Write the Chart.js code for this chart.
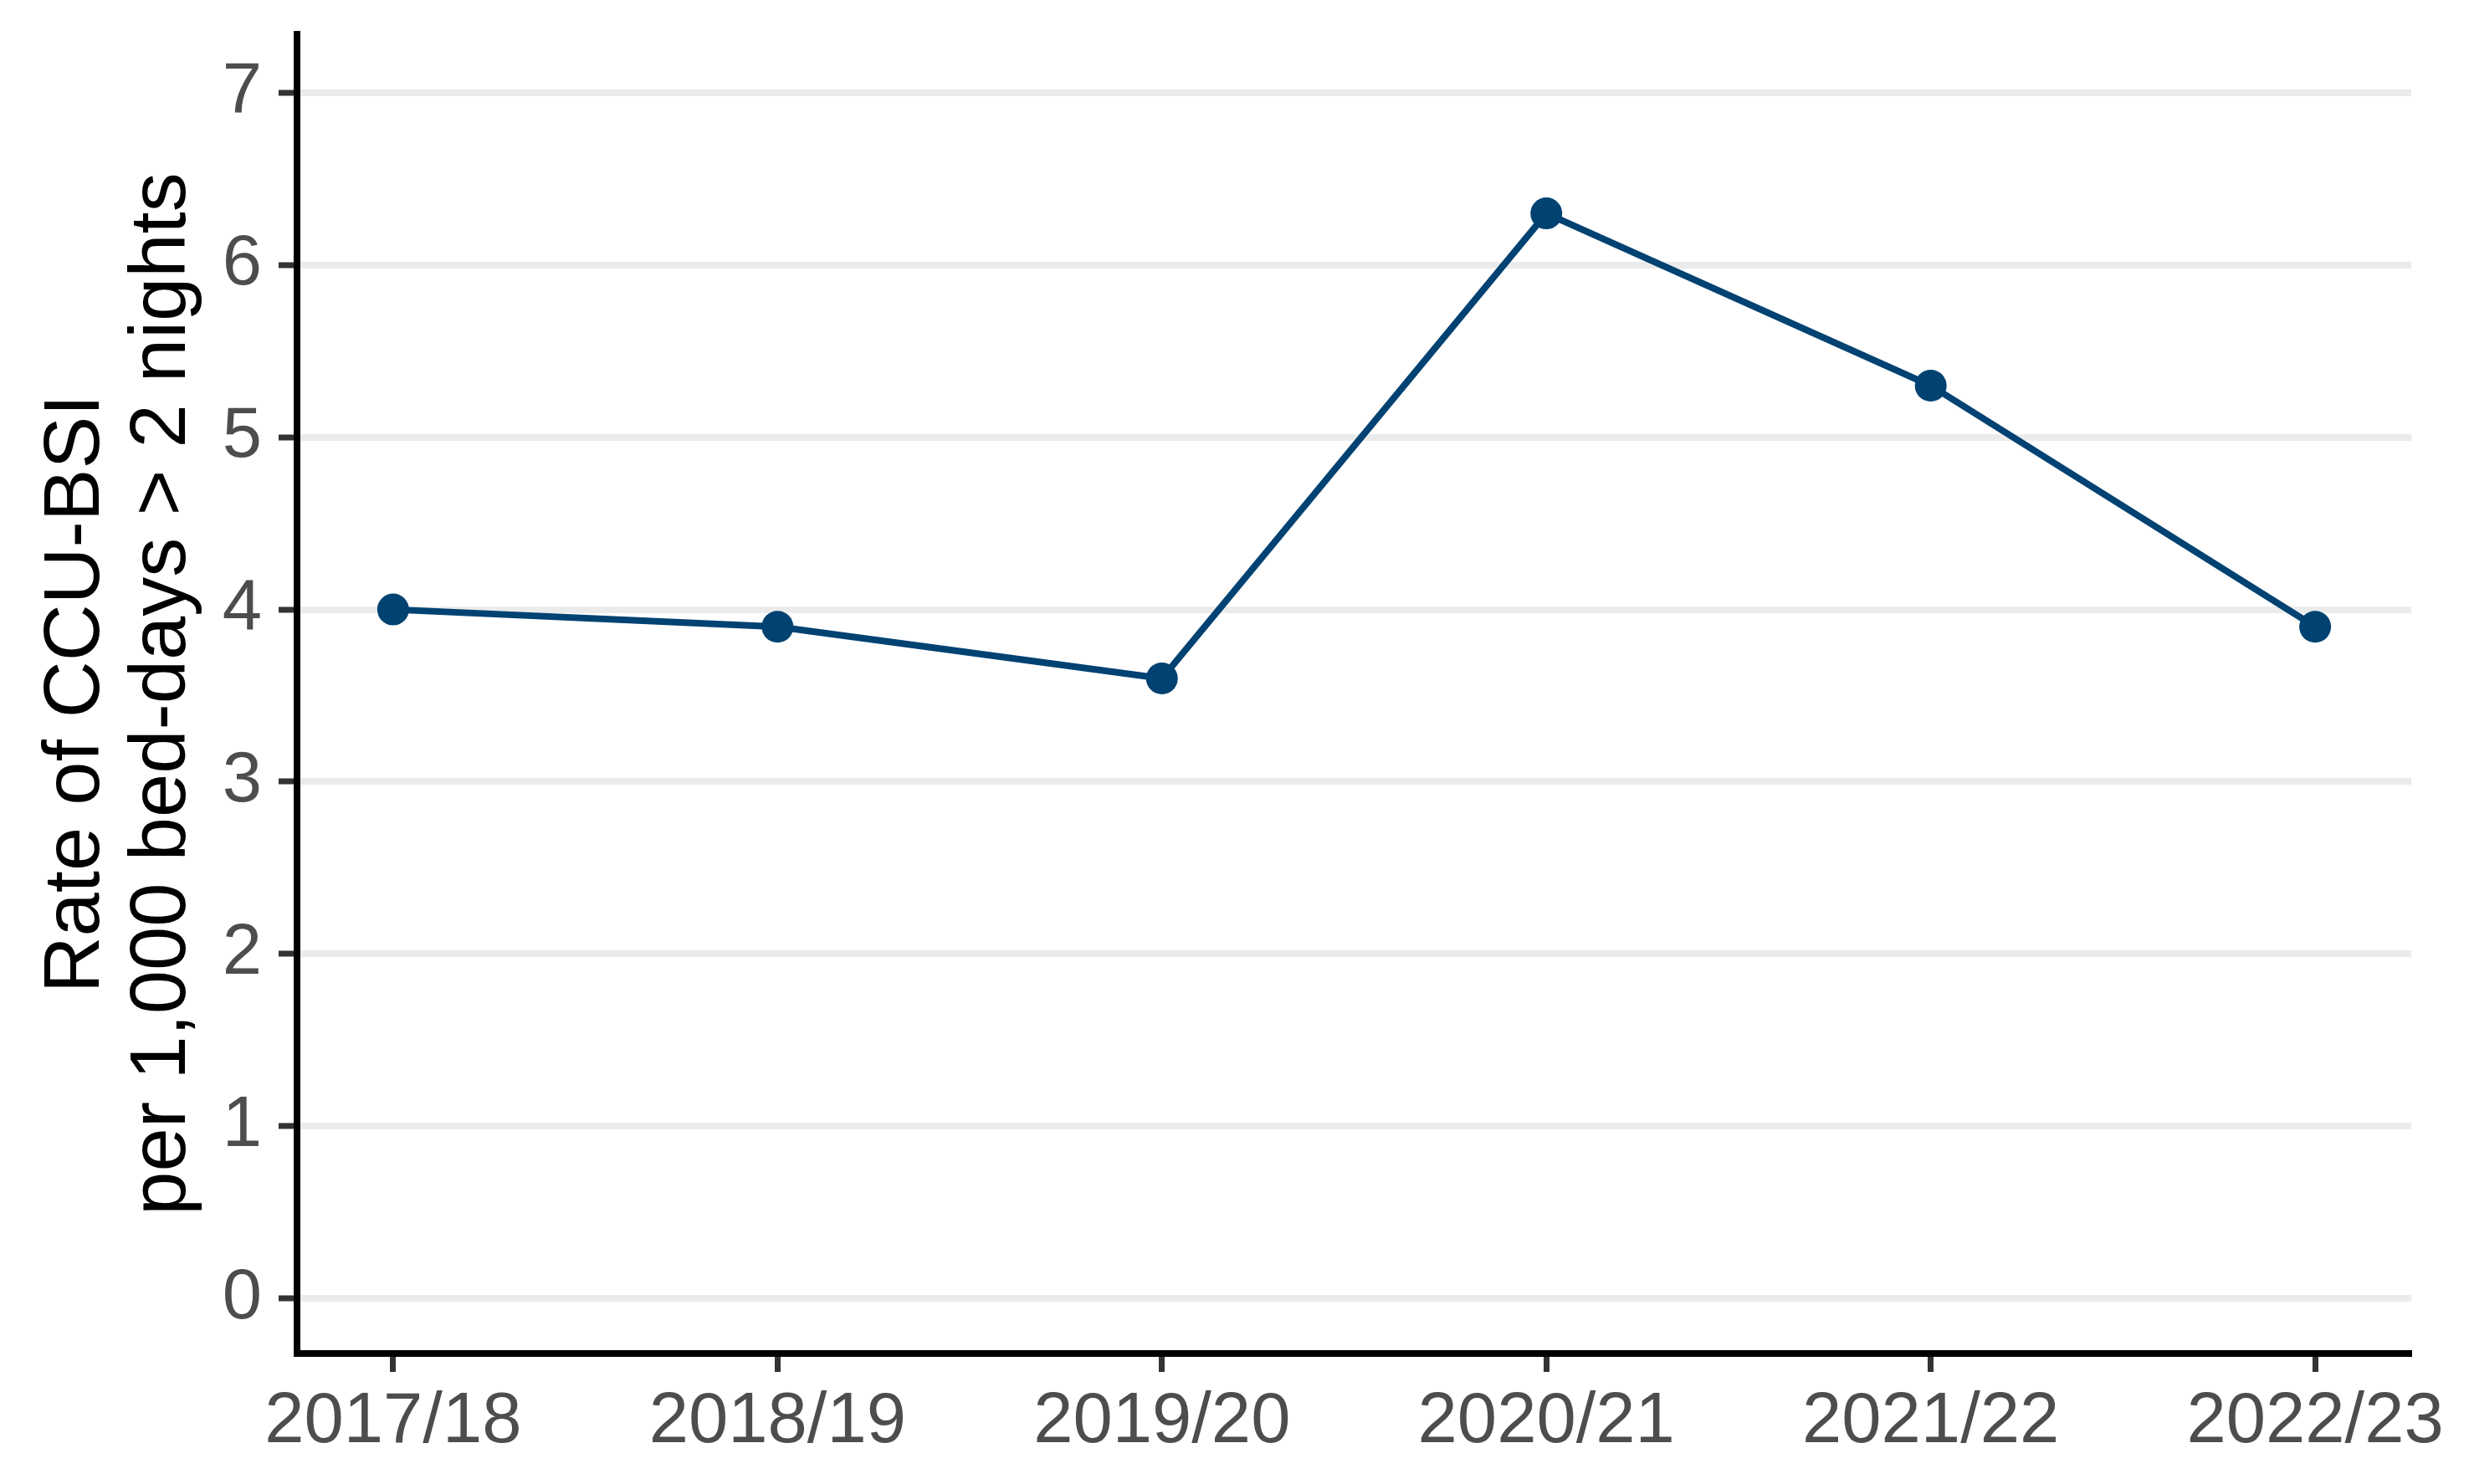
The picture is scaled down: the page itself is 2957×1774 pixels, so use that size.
<html lang="en">
<head>
  <meta charset="UTF-8">
  <title>CCU-BSI rate</title>
  <style>
    html, body { margin: 0; padding: 0; background: #fff; }
    #wrap { width: 2957px; height: 1774px; }
  </style>
  <script src="https://cdn.jsdelivr.net/npm/chart.js"></script>
</head>
<body>
  <div id="wrap"><canvas id="chart" width="2957" height="1774"></canvas></div>
  <script>
    const years = ['2017/18', '2018/19', '2019/20', '2020/21', '2021/22', '2022/23'];
    const rates = [4.0, 3.9, 3.6, 6.3, 5.3, 3.9];
    const yTicks = [0, 1, 2, 3, 4, 5, 6, 7];
    const yTitle = ['Rate of CCU-BSI', 'per 1,000 bed-days > 2 nights'];

    const lineColour = '#004272';
    const font = 'Liberation Sans, Arial, sans-serif';

    new Chart(document.getElementById('chart'), {
      type: 'line',
      data: {
        datasets: [{
          data: rates.map((v, i) => ({ x: i, y: v })),
          borderColor: lineColour,
          backgroundColor: lineColour,
          borderWidth: 8,
          pointRadius: 19,
          pointBorderWidth: 0,
          tension: 0
        }]
      },
      options: {
        responsive: false,
        devicePixelRatio: 1,
        animation: false,
        layout: { padding: { top: 41, right: 75, left: 40, bottom: 0 } },
        plugins: { legend: { display: false }, tooltip: { enabled: false } },
        scales: {
          x: {
            type: 'linear',
            min: -0.25,
            max: 5.25,
            afterBuildTicks: s => { s.ticks = years.map((_, i) => ({ value: i })); },
            afterFit: s => {
              s.height = 1774 - 1618;
              s.paddingLeft = 0;
              s.paddingRight = 0;
            },
            ticks: {
              callback: v => years[v],
              font: { family: font, size: 85 },
              color: '#4d4d4d',
              padding: 10,
              maxRotation: 0,
              autoSkip: false
            },
            grid: {
              drawOnChartArea: false,
              drawTicks: true,
              tickLength: 22,
              tickWidth: 7,
              tickColor: '#333333'
            },
            border: { display: true, color: '#000000', width: 8 }
          },
          y: {
            min: -0.32,
            max: 7.34,
            afterBuildTicks: s => { s.ticks = yTicks.map(v => ({ value: v })); },
            afterFit: s => {
              s.width = 355 - 40;
              s.paddingTop = 0;
              s.paddingBottom = 0;
            },
            ticks: {
              font: { family: font, size: 85 },
              color: '#4d4d4d',
              padding: 20
            },
            grid: {
              color: '#ebebeb',
              lineWidth: 8,
              tickLength: 22,
              tickWidth: 7,
              tickColor: '#333333'
            },
            border: { display: true, color: '#000000', width: 8 },
            title: {
              display: true,
              text: yTitle,
              font: { family: font, size: 94, lineHeight: 1.1 },
              color: '#000000',
              padding: { top: 0, bottom: 0 }
            }
          }
        }
      }
    });
  </script>
</body>
</html>
